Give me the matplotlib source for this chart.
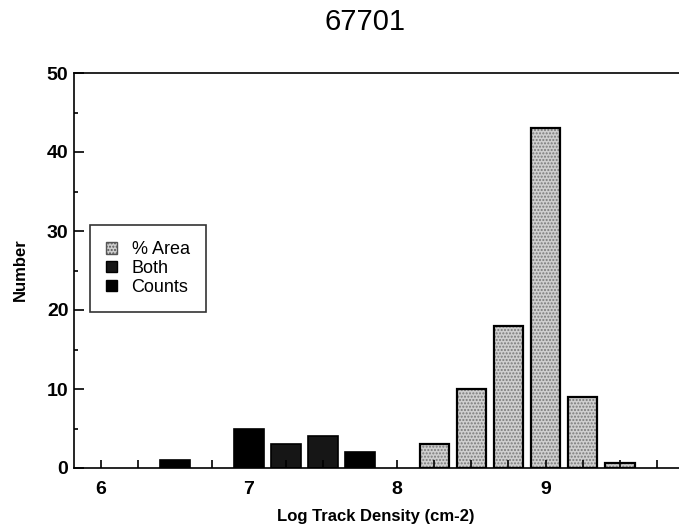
import matplotlib
matplotlib.use("Agg")
import matplotlib.pyplot as plt
from matplotlib.patches import Patch
from matplotlib.ticker import MultipleLocator

plt.rcParams['font.family'] = ['Liberation Sans', 'DejaVu Sans']

# data
counts_x = [6.5, 7.0, 7.75]
counts_y = [1, 5, 2]
both_x = [7.25, 7.5]
both_y = [3, 4]
area_x = [8.25, 8.5, 8.75, 9.0, 9.25, 9.5]
area_y = [3, 10, 18, 43, 9, 0.6]

title = "67701"
xlab = "Log Track Density (cm-2)"
ylab = "Number"

fig = plt.figure(figsize=(6.79, 5.31), dpi=100)
ax = fig.add_axes([74 / 679, 1 - 468 / 531, 1 - 74 / 679, (468 - 73) / 531])

w = 0.2
# stippled bars: grey fill with dot hatch, then a black outline on top
ax.bar(area_x, area_y, width=w, color='#cfcfcf', edgecolor='#7a7a7a',
       hatch='.....', linewidth=0)
ax.bar(area_x, area_y, width=w, facecolor='none', edgecolor='black', linewidth=1.6)
ax.bar(both_x, both_y, width=w, color='#161616', edgecolor='black', linewidth=1.2)
ax.bar(counts_x, counts_y, width=w, color='black', edgecolor='black', linewidth=1.2)

ax.set_xlim(5.82, 9.9)
ax.set_ylim(0, 50)
ax.xaxis.set_major_locator(MultipleLocator(1))
ax.xaxis.set_minor_locator(MultipleLocator(0.25))
ax.yaxis.set_major_locator(MultipleLocator(10))
ax.yaxis.set_minor_locator(MultipleLocator(5))
ax.tick_params(axis='both', which='both', direction='in', width=1.2,
               labelsize=14, top=False, right=False)
ax.tick_params(axis='x', which='both', length=6, pad=9)
ax.tick_params(axis='y', which='major', length=7, pad=4)
ax.tick_params(axis='y', which='minor', length=3)
for lbl in ax.get_xticklabels() + ax.get_yticklabels():
    lbl.set_fontweight('bold')
ax.spines['right'].set_visible(False)
for s in ['left', 'bottom', 'top']:
    ax.spines[s].set_linewidth(1.2)

fig.text(365 / 679, 1 - 22 / 531, title, ha='center', va='center', fontsize=21)
fig.text(376 / 679, 1 - 517 / 531, xlab, ha='center', va='center',
         fontsize=12, fontweight='bold')
fig.text(20 / 679, 1 - 270 / 531, ylab, ha='center', va='center',
         rotation=90, fontsize=12, fontweight='bold')

handles = [
    Patch(facecolor='#cfcfcf', edgecolor='#555555', hatch='.....', label='% Area'),
    Patch(facecolor='#161616', edgecolor='black', label='Both'),
    Patch(facecolor='black', edgecolor='black', label='Counts'),
]
leg = ax.legend(handles=handles, loc='upper left',
                bbox_to_anchor=((90 - 74) / 605, (468 - 225) / 395),
                fontsize=13, frameon=True, fancybox=False, borderaxespad=0,
                handlelength=0.6, handleheight=0.6, handletextpad=0.8,
                labelspacing=0.1, borderpad=0.9)
leg.get_frame().set_edgecolor('black')
leg.get_frame().set_linewidth(1.2)

fig.savefig("out.png", dpi=100)
